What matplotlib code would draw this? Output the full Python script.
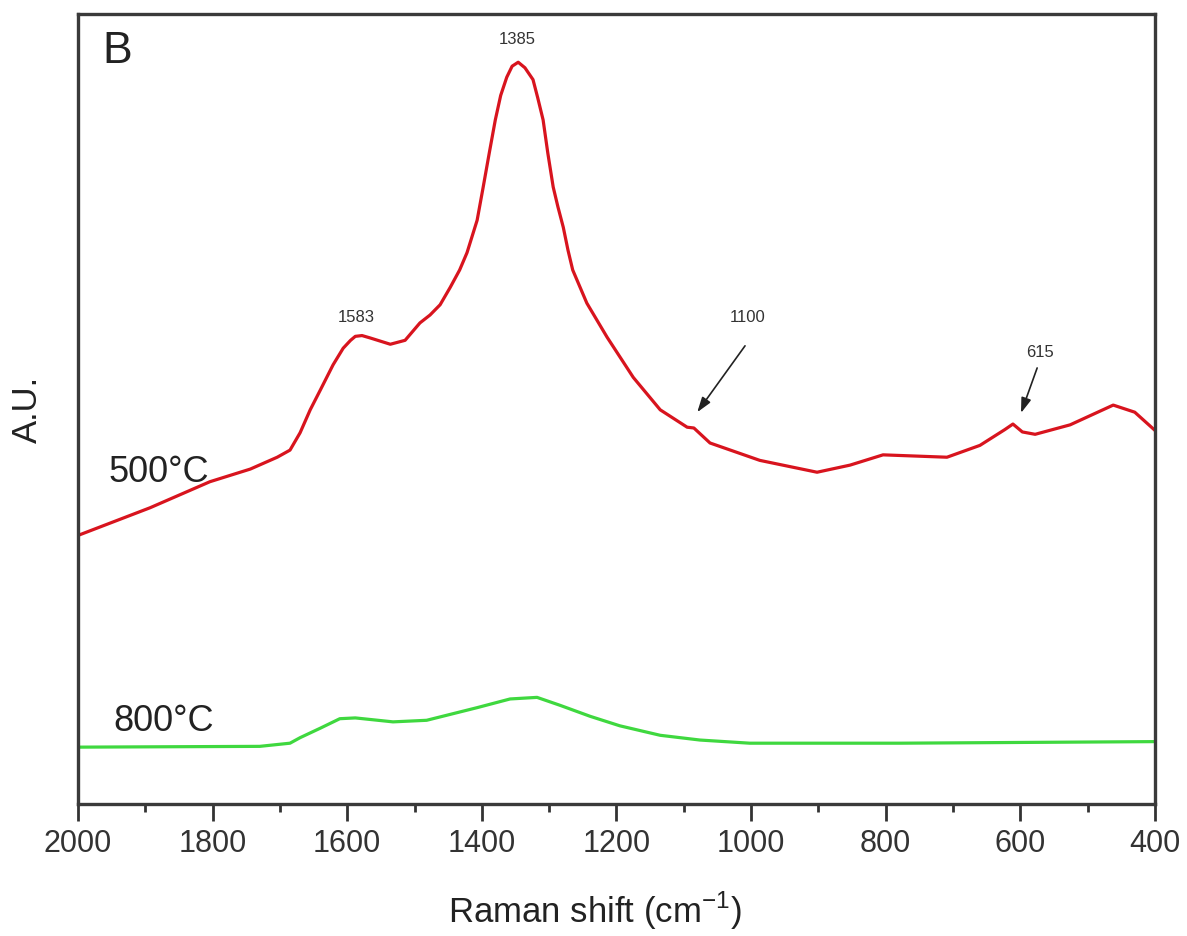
import numpy as np
import matplotlib
matplotlib.use('Agg')
import matplotlib.pyplot as plt

plt.rcParams['font.family'] = ['Liberation Sans', 'DejaVu Sans']
plt.rcParams['mathtext.fontset'] = 'custom'
plt.rcParams['mathtext.rm'] = 'Liberation Sans'

# Raman spectrum (arbitrary units)
shift_500 = [2000, 1893, 1804, 1744, 1704, 1685, 1670, 1655, 1640, 1621,
             1606, 1595, 1588, 1578, 1566, 1536, 1514, 1492, 1477, 1462,
             1447, 1433, 1422, 1407, 1398, 1389, 1380, 1372, 1363, 1355,
             1346, 1336, 1324, 1317, 1309, 1302, 1294, 1287, 1279, 1272,
             1265, 1244, 1214, 1175, 1135, 1095, 1085, 1061, 987, 902,
             853, 804, 709, 660, 623, 611, 597, 578, 526, 462, 430, 400]
int_500 = [340, 375, 408, 424, 439, 448, 470, 499, 524, 556,
           577, 587, 592, 593, 590, 582, 587, 609, 619, 632,
           654, 676, 698, 739, 781, 824, 866, 897, 920, 934,
           939, 932, 917, 894, 866, 824, 781, 756, 730, 701,
           676, 634, 591, 540, 499, 477, 476, 457, 435, 420,
           429, 442, 439, 454, 474, 481, 471, 468, 480, 505, 496, 473]

shift_800 = [2000, 1730, 1685, 1670, 1640, 1611, 1588, 1532, 1482, 1407,
             1358, 1318, 1284, 1239, 1195, 1135, 1076, 1002, 779, 400]
int_800 = [72, 73, 77, 84, 96, 108, 109, 104, 106, 122,
           133, 135, 125, 111, 99, 87, 81, 77, 77, 79]

# peak labels: text, text position, arrow tail and tip (None = no arrow)
peak_text = ['1385', '1583', '1100', '615']
peak_xy = [(1348, 968), (1587, 616), (1005, 616), (571, 572)]
arrow_tail = [None, None, (1009, 580), (575, 552)]
arrow_tip = [None, None, (1080, 496), (599, 495)]

fig = plt.figure(figsize=(11.87, 9.36), dpi=100)
ax = fig.add_axes([0.0657, 0.141, 0.9073, 0.844])

ax.plot(shift_500, int_500, color='#d8141e', lw=2.3)
ax.plot(shift_800, int_800, color='#3fd83f', lw=2.3)

ax.set_xlim(2000, 400)
ax.set_ylim(0, 1000)

for txt, xy, tail, tip in zip(peak_text, peak_xy, arrow_tail, arrow_tip):
    ax.text(xy[0], xy[1], txt, fontsize=12, ha='center', va='center', color='#333333')
    if tip is not None:
        ax.annotate('', xy=tip, xytext=tail,
                    arrowprops=dict(arrowstyle='-|>,head_length=0.9,head_width=0.3',
                                    color='#222222', lw=1.2, shrinkA=0, shrinkB=0))

ax.text(1954, 420, '500°C', fontsize=26, ha='left', va='center', color='#222222')
ax.text(1948, 104, '800°C', fontsize=26, ha='left', va='center', color='#222222')
ax.text(0.036, 0.952, 'B', transform=ax.transAxes, fontsize=32, ha='center', va='center',
        color='#222222', family=['Liberation Sans Narrow', 'Liberation Sans'])

ax.set_xticks(np.arange(2000, 399, -200))
ax.set_xticks(np.arange(1900, 400, -200), minor=True)
ax.tick_params(axis='x', which='major', direction='out', length=12, width=2,
               labelsize=22, colors='#333333', pad=6)
ax.tick_params(axis='x', which='minor', direction='out', length=6, width=2, colors='#333333')
ax.set_yticks([])

for s in ax.spines.values():
    s.set_linewidth(2.4)
    s.set_color('#3a3a3a')

ax.set_xlabel('Raman shift (cm$^{-1}$)', fontsize=25, color='#222222')
ax.xaxis.set_label_coords(0.48, -0.108)
ax.set_ylabel('A.U.', fontsize=25, color='#222222')
ax.yaxis.set_label_coords(-0.032, 0.5)

fig.savefig('out.png', dpi=100)
